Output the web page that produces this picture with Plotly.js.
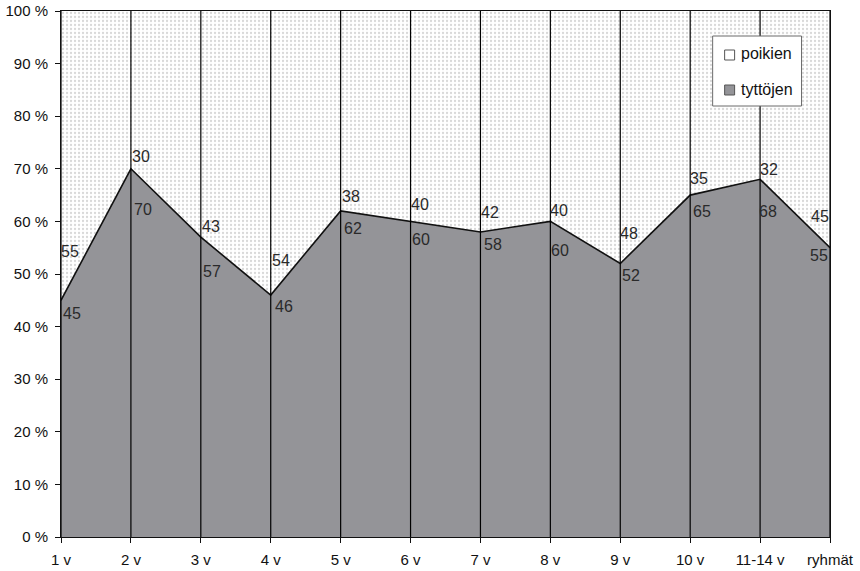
<!DOCTYPE html>
<html>
<head>
<meta charset="utf-8">
<script src="https://cdn.plot.ly/plotly-3.0.1.min.js"></script>
<style>
  html, body { margin: 0; padding: 0; background: #ffffff; }
  #chart { width: 860px; height: 571px; }
</style>
</head>
<body>
<div id="chart"></div>
<script>
// Age groups along the x axis
const categories = ['1 v', '2 v', '3 v', '4 v', '5 v', '6 v', '7 v', '8 v', '9 v', '10 v', '11-14 v', 'ryhmät'];
// Share of girls (bottom) and boys (top), percent
const tyttojen = [45, 70, 57, 46, 62, 60, 58, 60, 52, 65, 68, 55];
const poikien  = [55, 30, 43, 54, 38, 40, 42, 40, 48, 35, 32, 45];
const seriesNames = ['poikien', 'tyttöjen'];

// Label placement around each boundary point (pixels, screen down = positive)
const topDx = [9, 10, 10, 10, 10, 9, 10, 9, 9, 9, 9, -10];
const topDy = [-49, -12, -11, -35, -14, -17, -19, -11, -30, -17, -10, -31];
const botDx = [11, 12, 11, 13, 12, 10, 13, 10, 11, 12, 8, -11];
const botDy = [13, 41, 34, 11, 18, 18, 13, 29, 12, 16, 32, 8];

const W = 860, H = 571;
const M = { l: 60.5, r: 29.5, t: 11, b: 34 };
const plotW = W - M.l - M.r, plotH = H - M.t - M.b;
const px = x => (x - M.l) / plotW;
const py = y => (H - M.b - y) / plotH;

const GRAY = '#949498';
const FONT = 'Liberation Sans, Arial, Helvetica, sans-serif';

const traces = [
  {
    x: categories, y: tyttojen, name: seriesNames[1],
    type: 'scatter', mode: 'lines', stackgroup: 'one',
    fillcolor: GRAY, line: { color: '#111111', width: 1.6 },
    showlegend: false, hoverinfo: 'skip'
  },
  {
    x: categories, y: poikien, name: seriesNames[0],
    type: 'scatter', mode: 'lines', stackgroup: 'one',
    fillcolor: '#ffffff',
    fillpattern: { shape: '.', bgcolor: '#ffffff', fgcolor: '#d8d8d8', size: 4, solidity: 0.25 },
    line: { color: 'rgba(0,0,0,0)', width: 0 },
    showlegend: false, hoverinfo: 'skip'
  }
];

// Vertical category lines drawn over the filled areas
const vx = [], vy = [];
categories.forEach(c => { vx.push(c, c, null); vy.push(0, 100, null); });
traces.push({
  x: vx, y: vy, type: 'scatter', mode: 'lines',
  line: { color: '#000000', width: 1.2 },
  showlegend: false, hoverinfo: 'skip', cliponaxis: false
});

// Value labels
const annotations = [];
categories.forEach((c, i) => {
  annotations.push({
    x: c, y: tyttojen[i], xref: 'x', yref: 'y', showarrow: false,
    text: String(poikien[i]), xanchor: 'center', yanchor: 'middle',
    xshift: topDx[i], yshift: -topDy[i],
    font: { family: FONT, size: 16, color: '#2a2a2a' }
  });
  annotations.push({
    x: c, y: tyttojen[i], xref: 'x', yref: 'y', showarrow: false,
    text: String(tyttojen[i]), xanchor: 'center', yanchor: 'middle',
    xshift: botDx[i], yshift: -botDy[i],
    font: { family: FONT, size: 16, color: '#2a2a2a' }
  });
});

// Legend box
const shapes = [
  { type: 'rect', xref: 'paper', yref: 'paper', x0: px(713), x1: px(802), y0: py(106), y1: py(36),
    fillcolor: '#ffffff', line: { color: '#6a6a6a', width: 1 }, layer: 'above' },
  { type: 'rect', xref: 'paper', yref: 'paper', x0: px(725), x1: px(735), y0: py(60), y1: py(50),
    fillcolor: '#ffffff', line: { color: '#555555', width: 1 }, layer: 'above' },
  { type: 'rect', xref: 'paper', yref: 'paper', x0: px(725), x1: px(735), y0: py(95), y1: py(85),
    fillcolor: GRAY, line: { color: '#555555', width: 1 }, layer: 'above' }
];
annotations.push(
  { xref: 'paper', yref: 'paper', x: px(739), y: py(54), text: seriesNames[0], showarrow: false,
    xanchor: 'left', yanchor: 'middle', font: { family: FONT, size: 16, color: '#111111' } },
  { xref: 'paper', yref: 'paper', x: px(739), y: py(89), text: seriesNames[1], showarrow: false,
    xanchor: 'left', yanchor: 'middle', font: { family: FONT, size: 16, color: '#111111' } }
);

const layout = {
  width: W, height: H,
  margin: M,
  paper_bgcolor: '#ffffff', plot_bgcolor: '#ffffff',
  showlegend: false,
  font: { family: FONT, size: 15, color: '#111111' },
  xaxis: {
    type: 'category', range: [0, categories.length - 1],
    showgrid: false, zeroline: false,
    showline: true, linecolor: '#111111', linewidth: 1, mirror: true,
    ticks: 'outside', ticklen: 5, tickcolor: '#111111', tickwidth: 1,
    ticklabelstandoff: 4,
    tickfont: { family: FONT, size: 15, color: '#111111' }
  },
  yaxis: {
    range: [0, 100], dtick: 10, ticksuffix: ' %',
    showgrid: false, zeroline: false,
    showline: true, linecolor: '#111111', linewidth: 1, mirror: true,
    ticks: 'outside', ticklen: 5, tickcolor: '#111111', tickwidth: 1,
    ticklabelstandoff: 4,
    tickfont: { family: FONT, size: 15, color: '#111111' }
  },
  shapes: shapes,
  annotations: annotations
};

Plotly.newPlot('chart', traces, layout, { staticPlot: true, displayModeBar: false });
</script>
</body>
</html>
